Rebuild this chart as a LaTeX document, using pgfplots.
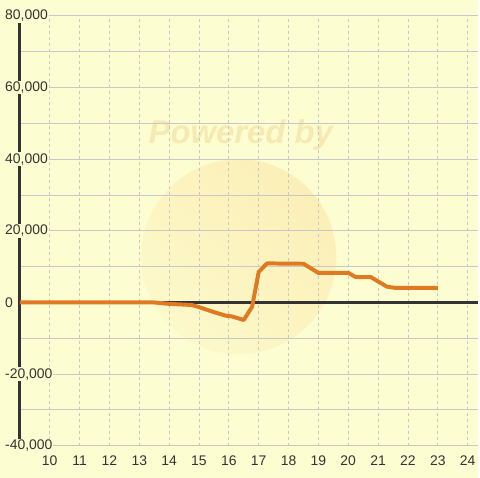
\documentclass[border=0pt]{standalone}
\usepackage{pgfplots}
\pgfplotsset{compat=1.18}
\usepackage{fontspec}
\setmainfont{Liberation Sans}
\definecolor{bg}{HTML}{FDFDD2}
\definecolor{gridc}{HTML}{C8C8C8}
\definecolor{dark}{HTML}{333333}
\definecolor{orangel}{HTML}{E07A22}
\definecolor{wm}{HTML}{FBEFB6}
\definecolor{wmt}{HTML}{F6EAB2}
\begin{document}
\fontsize{14}{17}\selectfont
\begin{tikzpicture}[font=\fontsize{14}{17}\selectfont]
\fill[bg] (-20pt,-32pt) rectangle (460pt,448pt);
\shade[left color=wm!30!bg, right color=wm, shading angle=135, opacity=0.95] (220pt,190pt) circle (98pt);
\node[font=\fontsize{33}{36}\selectfont\bfseries\itshape, text=wmt] at (222pt,312.5pt) {Powered by};
\begin{axis}[
  scale only axis,
  width=460pt, height=432pt,
  xmin=9, xmax=24.333,
  ymin=-40000, ymax=80000,
  axis x line*=bottom,
  axis y line*=left,
  x axis line style={draw=gridc, line width=1pt, -},
  y axis line style={draw=dark, line width=3pt, -},
  xtick={10,...,24},
  ytick={-40000,-20000,0,20000,40000,60000,80000},
  minor ytick={-30000,-10000,10000,30000,50000,70000},
  major tick length=0pt, minor tick length=0pt,
  xmajorgrids, ymajorgrids, yminorgrids,
  x grid style={draw=gridc, line width=0.8pt, dash pattern=on 3pt off 3pt},
  y grid style={draw=gridc, line width=1pt},
  minor y grid style={draw=gridc, line width=1pt},
  every tick label/.append style={font=\fontsize{14}{17}\selectfont, text=dark},
  /pgf/number format/assume math mode=true,
  /pgf/number format/.cd, 1000 sep={,},
  /pgfplots/.cd,
  scaled y ticks=false,
  yticklabel style={anchor=west, xshift=-16pt, fill=bg, inner sep=1pt},
  xticklabel style={anchor=north, yshift=-5pt},
  clip=false,
]
\addplot[dark, line width=3pt, forget plot] coordinates {(9,0) (24.333,0)};
\addplot[orangel, line width=4pt, line join=round] coordinates {
(9,0) (13.5,0) (14,-400) (14.75,-700) (15,-1300) (15.5,-2700) (15.9,-3700) (16.1,-3900) (16.5,-4900)
(16.78,-1200) (17.0,8500) (17.28,10900) (18.5,10800) (19.0,8250) (20.0,8250) (20.25,7100) (20.75,7100)
(21.3,4400) (21.55,4100) (23.0,4100)
};
\end{axis}
\end{tikzpicture}
\end{document}
